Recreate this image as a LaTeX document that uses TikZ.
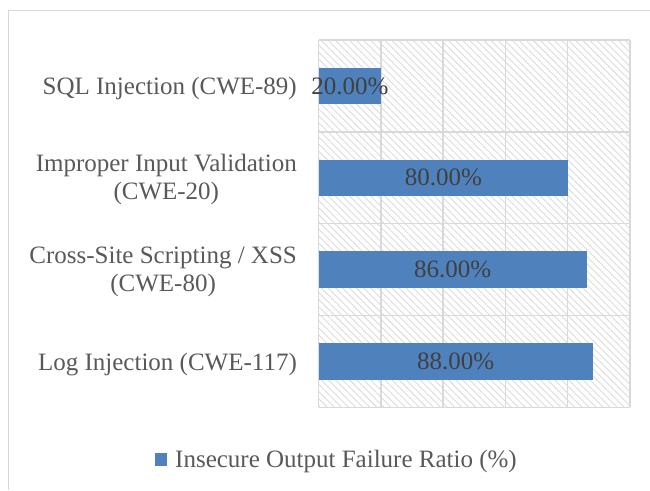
\documentclass[tikz,border=0pt]{standalone}
\usepackage{fontspec}
\setmainfont{Liberation Serif}
\usetikzlibrary{patterns.meta}
\definecolor{barblue}{HTML}{4F81BD}
\definecolor{gridgray}{HTML}{D9D9D9}
\definecolor{catgray}{HTML}{595959}
\definecolor{lblgray}{HTML}{404040}
\definecolor{hatchgray}{HTML}{DCDCDC}
\begin{document}
\begin{tikzpicture}[x=1pt,y=-1pt,
  txt/.style={font=\fontsize{25}{28}\selectfont},
  catlabel/.style={txt, anchor=east, align=center, text=catgray, inner sep=0pt},
  bar/.style={fill=barblue, draw=none, anchor=west, minimum height=36.3pt, inner sep=0pt},
  vallabel/.style={txt, text=lblgray, inner sep=0pt},
  gridline/.style={draw=gridgray, line width=1.5pt}]
\useasboundingbox (0,0) rectangle (650,490);
\fill[white] (0,0) rectangle (650,490);
% chart border
\draw[gridline] (8.5,490) -- (8.5,10.5) -- (650,10.5);
% plot area hatch
\fill[pattern={Lines[angle=-45,distance=5pt,line width=0.9pt]}, pattern color=hatchgray] (318.5,40) rectangle (630,407.3);
\foreach \i in {0,...,5} \draw[gridline] (318.5+62.3*\i,40) -- (318.5+62.3*\i,407.3);
\foreach \j in {0,...,4} \draw[gridline] (318.5,40+91.83*\j) -- (630,40+91.83*\j);
% bars
\node[bar, minimum width=62.3pt]  (b1) at (318.5,85.9)  {};
\node[bar, minimum width=249.2pt] (b2) at (318.5,177.7) {};
\node[bar, minimum width=267.9pt] (b3) at (318.5,269.5) {};
\node[bar, minimum width=274.1pt] (b4) at (318.5,361.4) {};
\node[vallabel] (v1) at (b1.center) {20.00\%};
\node[vallabel] (v2) at (b2.center) {80.00\%};
\node[vallabel] (v3) at (b3.center) {86.00\%};
\node[vallabel] (v4) at (b4.center) {88.00\%};
% category labels
\node[catlabel] (c1) at (297,88.5)  {SQL Injection (CWE-89)};
\node[catlabel] (c2) at (297,179.5) {Improper Input Validation\\(CWE-20)};
\node[catlabel] (c3) at (297,271.5) {Cross-Site Scripting / XSS\\(CWE-80)};
\node[catlabel] (c4) at (297,364.5) {Log Injection (CWE-117)};
% legend
\node[fill=barblue, minimum size=12.5pt, inner sep=0pt] (legsq) at (161,459.5) {};
\node[txt, anchor=base west, text=catgray, inner sep=0pt] (legtxt) at (175,467) {Insecure Output Failure Ratio (\%)};
\end{tikzpicture}
\end{document}
